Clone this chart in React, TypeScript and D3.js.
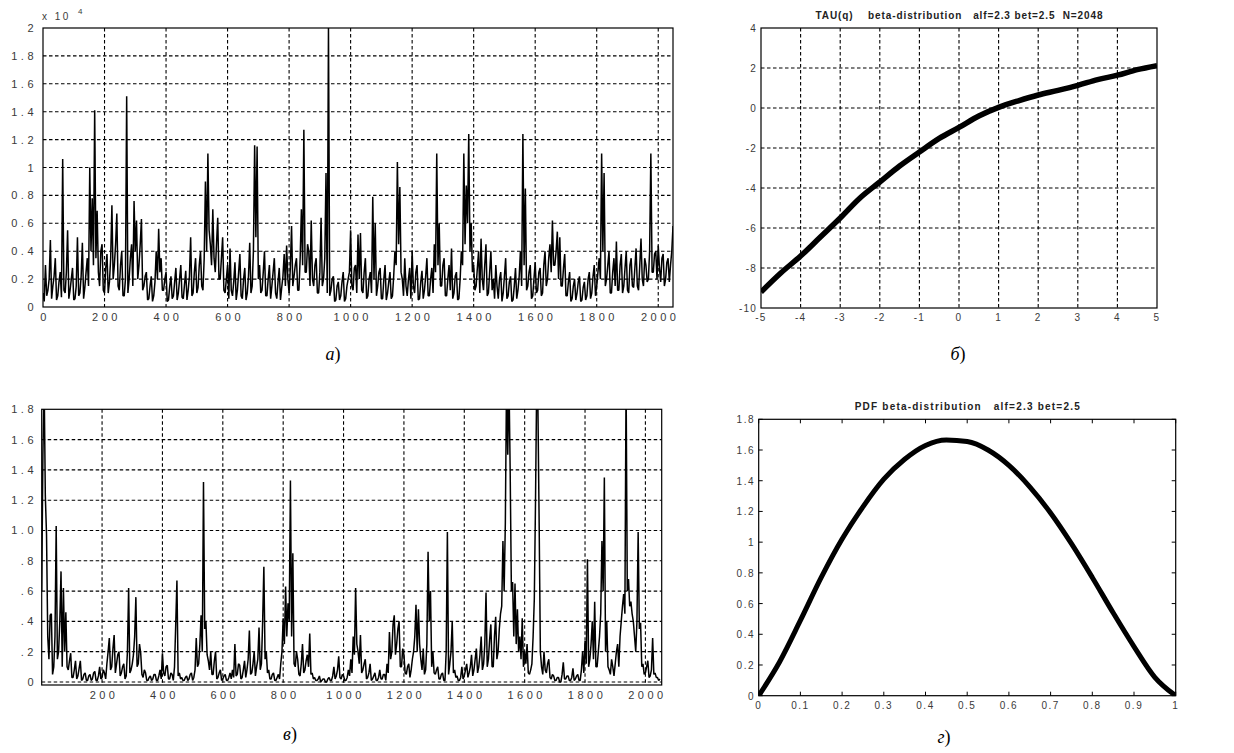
import React from 'react';
import * as d3 from 'd3';

// ---------- data ----------
const STEP = 4; // sample spacing of the stored series
// panel а: values in units of 0.01 x 10^4 (sample n is at x = n*STEP)
const seriesA = [
  10, 4, 30, 8, 12, 20, 48, 6, 15, 22, 35, 5, 8, 18, 25, 7, 106, 12, 10, 25,
  55, 6, 12, 20, 28, 5, 6, 15, 50, 8, 10, 22, 46, 6, 14, 25, 35, 15, 100, 40,
  78, 30, 141, 35, 69, 25, 15, 40, 45, 12, 10, 28, 38, 10, 18, 35, 73, 20, 30, 45,
  67, 15, 12, 30, 40, 8, 8, 20, 151, 10, 20, 35, 45, 15, 76, 40, 62, 20, 30, 45,
  63, 12, 15, 22, 25, 5, 6, 15, 22, 4, 8, 18, 40, 20, 56, 25, 35, 12, 12, 20,
  25, 4, 5, 15, 22, 6, 8, 18, 28, 5, 10, 20, 30, 7, 6, 16, 26, 5, 12, 22,
  50, 8, 10, 25, 35, 10, 14, 30, 40, 15, 12, 35, 90, 40, 110, 55, 45, 30, 70, 35,
  25, 45, 64, 20, 20, 35, 50, 12, 10, 20, 30, 6, 42, 12, 8, 18, 32, 5, 12, 25,
  38, 8, 6, 20, 28, 5, 10, 22, 46, 10, 15, 40, 116, 50, 115, 20, 30, 10, 12, 25,
  40, 8, 8, 20, 30, 6, 15, 25, 35, 10, 6, 18, 28, 5, 14, 22, 38, 15, 44, 20,
  10, 28, 58, 15, 22, 30, 35, 12, 12, 35, 70, 30, 127, 25, 25, 45, 40, 15, 62, 20,
  15, 30, 35, 10, 10, 25, 64, 15, 20, 35, 96, 10, 200, 8, 12, 20, 22, 4, 5, 15,
  18, 5, 8, 18, 25, 4, 6, 15, 20, 25, 55, 15, 12, 28, 30, 10, 52, 20, 53, 12,
  10, 25, 35, 6, 8, 20, 25, 10, 79, 20, 60, 8, 15, 25, 28, 6, 6, 20, 30, 5,
  10, 18, 25, 6, 8, 22, 40, 30, 104, 45, 86, 25, 20, 8, 35, 15, 8, 20, 28, 6,
  40, 15, 10, 25, 30, 5, 6, 18, 26, 6, 12, 22, 35, 8, 8, 20, 28, 10, 45, 25,
  110, 30, 60, 15, 15, 30, 35, 8, 8, 20, 30, 12, 42, 6, 10, 22, 25, 5, 6, 20,
  40, 30, 110, 45, 87, 60, 124, 40, 60, 25, 30, 12, 15, 28, 40, 10, 49, 20, 12, 30,
  45, 8, 10, 25, 40, 12, 20, 6, 30, 15, 6, 20, 25, 4, 10, 22, 35, 6, 8, 18,
  22, 4, 5, 15, 28, 6, 12, 22, 40, 15, 124, 30, 85, 12, 15, 25, 30, 6, 8, 20,
  32, 10, 12, 25, 28, 8, 10, 30, 40, 15, 20, 35, 45, 25, 62, 30, 30, 40, 54, 20,
  50, 15, 15, 28, 38, 8, 8, 18, 25, 4, 6, 15, 20, 5, 10, 18, 22, 4, 5, 14,
  18, 5, 8, 20, 25, 6, 10, 22, 30, 8, 15, 25, 35, 20, 110, 40, 96, 15, 20, 30,
  40, 10, 10, 25, 35, 15, 47, 12, 12, 30, 38, 10, 15, 28, 40, 12, 10, 30, 35, 15,
  14, 28, 42, 15, 12, 30, 49, 20, 15, 35, 30, 18, 20, 40, 110, 25, 25, 38, 40, 20,
  44, 28, 18, 35, 38, 15, 20, 32, 35, 18, 30, 40, 58
];
// panel в: values in units of 0.01 (sample n is at x = n*STEP)
const seriesC = [
  60, 150, 200, 123, 97, 30, 15, 44, 45, 5, 10, 30, 103, 15, 20, 40, 73, 10, 62, 20,
  46, 10, 8, 14, 19, 3, 3, 8, 14, 2, 4, 9, 14, 1, 2, 5, 6, 1, 1, 4,
  5, 1, 2, 6, 7, 1, 1, 4, 10, 2, 3, 8, 6, 2, 12, 20, 29, 8, 10, 22,
  31, 6, 12, 18, 20, 4, 6, 10, 12, 2, 4, 20, 62, 6, 8, 12, 18, 30, 56, 10,
  12, 25, 19, 5, 3, 8, 6, 1, 1, 3, 4, 1, 2, 5, 5, 1, 1, 4, 8, 2,
  19, 6, 4, 10, 11, 2, 2, 6, 5, 1, 10, 38, 67, 4, 6, 2, 3, 1, 1, 3,
  4, 1, 2, 5, 6, 1, 3, 8, 29, 10, 12, 25, 44, 20, 132, 35, 40, 18, 14, 8,
  20, 5, 5, 14, 20, 2, 3, 6, 8, 1, 2, 4, 5, 1, 1, 3, 6, 2, 8, 3,
  25, 4, 5, 12, 11, 2, 3, 8, 14, 3, 8, 15, 34, 5, 6, 12, 20, 4, 10, 15,
  36, 8, 12, 40, 76, 15, 20, 6, 8, 2, 2, 5, 6, 1, 1, 3, 5, 2, 12, 20,
  42, 25, 63, 30, 52, 40, 133, 30, 85, 12, 10, 20, 15, 5, 4, 12, 25, 6, 8, 14,
  18, 10, 32, 5, 6, 2, 3, 1, 1, 2, 4, 0, 1, 2, 2, 0, 0, 2, 3, 1,
  1, 4, 10, 2, 4, 8, 17, 3, 2, 5, 4, 1, 1, 3, 8, 4, 15, 6, 30, 18,
  62, 25, 20, 12, 31, 6, 8, 12, 15, 2, 3, 6, 12, 1, 2, 4, 6, 1, 1, 3,
  8, 2, 2, 5, 5, 1, 12, 6, 33, 15, 20, 38, 44, 18, 25, 35, 40, 10, 10, 22,
  18, 6, 5, 10, 12, 3, 8, 15, 20, 30, 51, 20, 48, 25, 15, 8, 22, 5, 8, 25,
  86, 40, 60, 10, 20, 6, 5, 8, 10, 2, 2, 5, 6, 1, 1, 20, 99, 5, 12, 20,
  40, 6, 8, 3, 4, 1, 1, 3, 10, 2, 4, 8, 12, 3, 6, 10, 18, 4, 8, 15,
  22, 6, 10, 18, 30, 8, 12, 25, 59, 10, 15, 28, 38, 10, 10, 30, 43, 15, 20, 35,
  45, 50, 93, 60, 105, 200, 150, 200, 140, 60, 66, 30, 65, 25, 48, 20, 30, 15, 42, 10,
  20, 12, 25, 6, 5, 8, 12, 30, 55, 120, 200, 180, 105, 20, 10, 5, 20, 8, 6, 12,
  15, 3, 2, 5, 4, 1, 1, 3, 3, 0, 0, 5, 13, 2, 2, 4, 4, 1, 1, 3,
  9, 1, 2, 4, 5, 1, 1, 8, 20, 6, 27, 12, 81, 10, 15, 25, 40, 15, 53, 10,
  10, 20, 30, 45, 93, 60, 135, 20, 40, 10, 8, 5, 15, 10, 4, 12, 20, 25, 10, 30,
  40, 50, 58, 45, 200, 60, 68, 50, 53, 45, 40, 30, 20, 40, 99, 35, 39, 10, 12, 5,
  6, 10, 14, 3, 4, 8, 29, 5, 6, 3, 3, 1, 2
];
const qValues = [-5, -4.5, -4, -3.5, -3, -2.5, -2, -1.5, -1, -0.5, 0, 0.5, 1, 1.5, 2, 2.5, 3, 3.5, 4, 4.5, 5];
const tauValues = [-9.2, -8.25, -7.4, -6.45, -5.5, -4.5, -3.7, -2.9, -2.2, -1.52, -0.97, -0.4, 0.03, 0.36, 0.65, 0.88, 1.13, 1.42, 1.64, 1.92, 2.12];
const pdfX = [0, 0.05, 0.1, 0.15, 0.2, 0.25, 0.3, 0.35, 0.4, 0.45, 0.5, 0.55, 0.6, 0.65, 0.7, 0.75, 0.8, 0.85, 0.9, 0.95, 1];
const pdfY = [0, 0.22, 0.49, 0.77, 1.02, 1.23, 1.41, 1.54, 1.63, 1.665, 1.655, 1.6, 1.5, 1.36, 1.19, 0.99, 0.77, 0.54, 0.32, 0.12, 0];

const xTicksA = [0, 200, 400, 600, 800, 1000, 1200, 1400, 1600, 1800, 2000];
const yTicksA = [0, 0.2, 0.4, 0.6, 0.8, 1, 1.2, 1.4, 1.6, 1.8, 2];
const yLabelsA = ['0', '0.2', '0.4', '0.6', '0.8', '1', '1.2', '1.4', '1.6', '1.8', '2'];
const xTicksC = [200, 400, 600, 800, 1000, 1200, 1400, 1600, 1800, 2000];
const yTicksC = [0, 0.2, 0.4, 0.6, 0.8, 1, 1.2, 1.4, 1.6, 1.8];
const yLabelsC = ['0', '.2', '.4', '.6', '.8', '1.0', '1.2', '1.4', '1.6', '1.8'];
const xTicksB = [-5, -4, -3, -2, -1, 0, 1, 2, 3, 4, 5];
const yTicksB = [-10, -8, -6, -4, -2, 0, 2, 4];
const xTicksD = [0, 0.1, 0.2, 0.3, 0.4, 0.5, 0.6, 0.7, 0.8, 0.9, 1];
const yTicksD = [0, 0.2, 0.4, 0.6, 0.8, 1, 1.2, 1.4, 1.6, 1.8];

const titleB = 'TAU(q)    beta-distribution   alf=2.3 bet=2.5  N=2048';
const titleD = 'PDF beta-distribution   alf=2.3 bet=2.5';
const captions = ['а', 'б', 'в', 'г'];

// ---------- styles ----------
const SANS = "'Liberation Sans', Arial, sans-serif";
const SERIF = "'Liberation Serif', 'Times New Roman', serif";
const TICK = '#3a3a3a';
const DASH = '3.5 2.5';

// ---------- scales ----------
const ax = d3.scaleLinear().domain([0, 2048]).range([43, 673]);
const ay = d3.scaleLinear().domain([0, 2]).range([307, 28]);
const cx = d3.scaleLinear().domain([0, 2054]).range([41.7, 661.7]);
const cy = d3.scaleLinear().domain([-0.02, 1.8]).range([685, 409.3]);
const bx = d3.scaleLinear().domain([-5, 5]).range([761, 1157]);
const by = d3.scaleLinear().domain([-10, 4]).range([308, 28]);
const dx = d3.scaleLinear().domain([0, 1]).range([758.7, 1175.7]);
const dy = d3.scaleLinear().domain([0, 1.8]).range([695.7, 419.3]);

const lineA = d3.line<number>().x((_, i) => ax(i * STEP)).y((d) => ay(d / 100));
const lineC = d3.line<number>().x((_, i) => cx(i * STEP)).y((d) => cy(d / 100));
const lineB = d3.line<number>().x((_, i) => bx(qValues[i])).y((d) => by(d)).curve(d3.curveMonotoneX);
const lineD = d3.line<number>().x((_, i) => dx(pdfX[i])).y((d) => dy(d)).curve(d3.curveMonotoneX);

function Frame({ x0, x1, y0, y1 }: { x0: number; x1: number; y0: number; y1: number }) {
  return <rect x={x0} y={y1} width={x1 - x0} height={y0 - y1} fill="none" stroke="#000" strokeWidth={1.2} />;
}

export default function App() {
  const [aL, aR] = ax.range();
  const [aB, aT] = ay.range();
  const [cL, cR] = cx.range();
  const [cB, cT] = cy.range();
  const [bL, bR] = bx.range();
  const [bB, bT] = by.range();
  const [dL, dR] = dx.range();
  const [dB, dT] = dy.range();

  const tickStyleWide: React.CSSProperties = { fontFamily: SANS, fontSize: 11, letterSpacing: 3.5, fill: TICK };
  const tickStyleB: React.CSSProperties = { fontFamily: SANS, fontSize: 10, letterSpacing: 1.2, fill: TICK };
  const tickStyleD: React.CSSProperties = { fontFamily: SANS, fontSize: 10, letterSpacing: 1.5, fill: TICK };

  return (
    <svg width={1234} height={753} style={{ position: 'absolute', left: 0, top: 0, background: '#fff' }}>
      <defs>
        <clipPath id="clipA"><rect x={aL} y={aT} width={aR - aL} height={aB - aT} /></clipPath>
        <clipPath id="clipC"><rect x={cL} y={cT} width={cR - cL} height={cB - cT} /></clipPath>
        <clipPath id="clipB"><rect x={bL} y={bT - 3} width={bR - bL} height={bB - bT + 6} /></clipPath>
        <clipPath id="clipD"><rect x={dL} y={dT} width={dR - dL} height={dB - dT} /></clipPath>
      </defs>
      <rect x={0} y={0} width={1234} height={753} fill="#fff" />

      {/* ===== Panel а ===== */}
      <g>
        {xTicksA.filter((t) => t > 0).map((t) => (
          <line key={'ax' + t} x1={ax(t)} x2={ax(t)} y1={aT} y2={aB} stroke="#000" strokeDasharray={DASH} strokeWidth={1.1} />
        ))}
        {yTicksA.filter((t) => t > 0 && t < 2).map((t) => (
          <line key={'ay' + t} x1={aL} x2={aR} y1={ay(t)} y2={ay(t)} stroke="#000" strokeDasharray={DASH} strokeWidth={1.1} />
        ))}
        <path d={lineA(seriesA) || ''} fill="none" stroke="#000" strokeWidth={1.5} strokeLinejoin="bevel" clipPath="url(#clipA)" />
        <Frame x0={aL} x1={aR} y0={aB} y1={aT} />
        {xTicksA.map((t) => (
          <text key={'axl' + t} x={ax(t) + 2} y={321} textAnchor="middle" style={tickStyleWide}>{t}</text>
        ))}
        {yTicksA.map((t, i) => (
          <text key={'ayl' + t} x={37} y={ay(t) + 4} textAnchor="end" style={tickStyleWide}>{yLabelsA[i]}</text>
        ))}
        <text x={42} y={20} style={{ fontFamily: SANS, fontSize: 10, letterSpacing: 2.5, fill: TICK }}>x 10</text>
        <text x={78} y={14} style={{ fontFamily: SANS, fontSize: 8, fill: TICK }}>4</text>
      </g>

      {/* ===== Panel б ===== */}
      <g>
        {xTicksB.filter((t) => t > -5 && t < 5).map((t) => (
          <line key={'bx' + t} x1={bx(t)} x2={bx(t)} y1={bT} y2={bB} stroke="#000" strokeDasharray={DASH} strokeWidth={1.1} />
        ))}
        {yTicksB.filter((t) => t > -10 && t < 4).map((t) => (
          <line key={'by' + t} x1={bL} x2={bR} y1={by(t)} y2={by(t)} stroke="#000" strokeDasharray={DASH} strokeWidth={1.1} />
        ))}
        <path d={lineB(tauValues) || ''} fill="none" stroke="#000" strokeWidth={5.5} clipPath="url(#clipB)" />
        <Frame x0={bL} x1={bR} y0={bB} y1={bT} />
        {xTicksB.map((t) => (
          <text key={'bxl' + t} x={bx(t)} y={321} textAnchor="middle" style={tickStyleB}>{t}</text>
        ))}
        {yTicksB.map((t) => (
          <text key={'byl' + t} x={757} y={by(t) + 4} textAnchor="end" style={tickStyleB}>{t}</text>
        ))}
        <text x={(bL + bR) / 2} y={19} textAnchor="middle" textLength={287} lengthAdjust="spacing"
          style={{ fontFamily: SANS, fontSize: 10, fontWeight: 'bold', fill: '#222', whiteSpace: 'pre' }}>{titleB}</text>
      </g>

      {/* ===== Panel в ===== */}
      <g>
        {xTicksC.map((t) => (
          <line key={'cx' + t} x1={cx(t)} x2={cx(t)} y1={cT} y2={cB} stroke="#000" strokeDasharray={DASH} strokeWidth={1.1} />
        ))}
        {yTicksC.filter((t) => t < 1.8).map((t) => (
          <line key={'cy' + t} x1={cL} x2={cR} y1={cy(t)} y2={cy(t)} stroke="#000" strokeDasharray={DASH} strokeWidth={1.1} />
        ))}
        <path d={lineC(seriesC) || ''} fill="none" stroke="#000" strokeWidth={1.5} strokeLinejoin="bevel" clipPath="url(#clipC)" />
        <Frame x0={cL} x1={cR} y0={cB} y1={cT} />
        {xTicksC.map((t) => (
          <text key={'cxl' + t} x={cx(t) + 2} y={699} textAnchor="middle" style={tickStyleWide}>{t}</text>
        ))}
        {yTicksC.map((t, i) => (
          <text key={'cyl' + t} x={37} y={cy(t) + 4} textAnchor="end" style={tickStyleWide}>{yLabelsC[i]}</text>
        ))}
      </g>

      {/* ===== Panel г ===== */}
      <g>
        <path d={lineD(pdfY) || ''} fill="none" stroke="#000" strokeWidth={5} strokeLinecap="round" clipPath="url(#clipD)" />
        <Frame x0={dL} x1={dR} y0={dB} y1={dT} />
        {xTicksD.map((t) => (
          <g key={'dxt' + t}>
            <line x1={dx(t)} x2={dx(t)} y1={dB} y2={dB - 4} stroke="#000" />
            <line x1={dx(t)} x2={dx(t)} y1={dT} y2={dT + 4} stroke="#000" />
            <text x={dx(t)} y={709} textAnchor="middle" style={tickStyleD}>{t}</text>
          </g>
        ))}
        {yTicksD.map((t) => (
          <g key={'dyt' + t}>
            <line x1={dL} x2={dL + 4} y1={dy(t)} y2={dy(t)} stroke="#000" />
            <line x1={dR} x2={dR - 4} y1={dy(t)} y2={dy(t)} stroke="#000" />
            <text x={755} y={dy(t) + 4} textAnchor="end" style={tickStyleD}>{t}</text>
          </g>
        ))}
        <text x={(dL + dR) / 2} y={410} textAnchor="middle" textLength={225} lengthAdjust="spacing"
          style={{ fontFamily: SANS, fontSize: 10, fontWeight: 'bold', fill: '#222', whiteSpace: 'pre' }}>{titleD}</text>
      </g>

      {/* ===== captions ===== */}
      {[
        [333, 360],
        [958, 360],
        [290, 740],
        [944, 743],
      ].map(([x, y], i) => (
        <text key={'cap' + i} x={x} y={y} textAnchor="middle" style={{ fontFamily: SERIF, fontSize: 18, fill: '#000' }}>
          <tspan fontStyle="italic">{captions[i]}</tspan>)
        </text>
      ))}
    </svg>
  );
}
